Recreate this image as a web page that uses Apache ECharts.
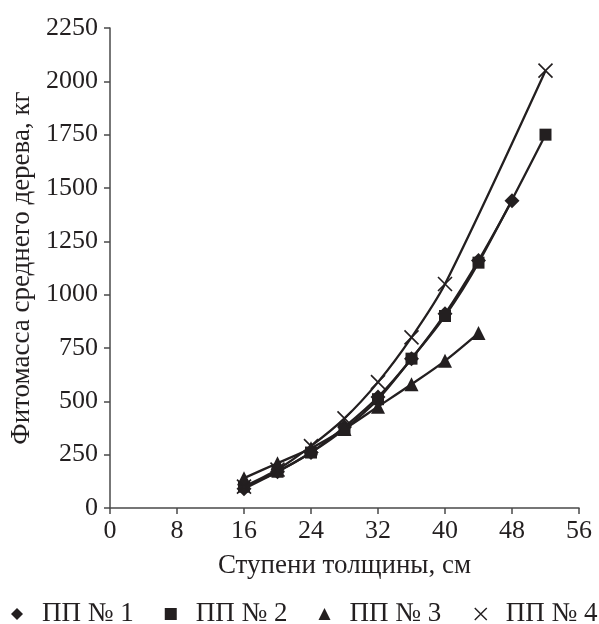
<!DOCTYPE html>
<html>
<head>
<meta charset="utf-8">
<script src="https://cdn.jsdelivr.net/npm/echarts@6/dist/echarts.min.js"></script>
<style>
  html, body { margin: 0; padding: 0; background: #fff; }
  #chart { width: 599px; height: 624px; }
</style>
</head>
<body>
<div id="chart"></div>
<script>
// Diameter classes (cm) and mean-tree phytomass (kg) per sample plot
const diameters = [16, 20, 24, 28, 32, 36, 40, 44, 48, 52];
const plot1 = [90, 170, 260, 380, 520, 700, 910, 1160, 1440, null];
const plot2 = [100, 170, 260, 370, 510, 700, 900, 1150, null, 1750];
const plot3 = [140, 210, 280, 370, 475, 580, 690, 820, null, null];
const plot4 = [100, 180, 290, 420, 590, 800, 1050, null, null, 2050];
const seriesNames = ['ПП № 1', 'ПП № 2', 'ПП № 3', 'ПП № 4'];
const yTicks = [0, 250, 500, 750, 1000, 1250, 1500, 1750, 2000, 2250];
const xTicks = [0, 8, 16, 24, 32, 40, 48, 56];

const ink = '#231f20';
const axisInk = '#4a4a4a';
const serif = 'Liberation Serif';
const crossPath = 'path://M0,0L10,10M10,0L0,10';

function pairs(vals) {
  const out = [];
  vals.forEach((v, i) => { if (v !== null) out.push([diameters[i], v]); });
  return out;
}

const symbols = ['diamond', 'rect', 'triangle', crossPath];
const sizes = [15, 12, 14, 14];
const datasets = [plot1, plot2, plot3, plot4];

const series = datasets.map((vals, k) => ({
  name: seriesNames[k],
  type: 'line',
  smooth: 0.3,
  data: pairs(vals),
  symbol: symbols[k],
  symbolSize: sizes[k],
  showAllSymbol: true,
  lineStyle: { color: ink, width: 2.3 },
  itemStyle: k === 3
    ? { color: 'none', borderColor: ink, borderWidth: 1.6 }
    : { color: ink, borderColor: ink, borderWidth: 0 },
  emphasis: { disabled: true },
  z: 3 + k
}));

const chart = echarts.init(document.getElementById('chart'), null, { renderer: 'canvas' });
chart.setOption({
  animation: false,
  backgroundColor: '#fff',
  textStyle: { fontFamily: serif, color: ink },
  grid: { left: 109, right: 20, top: 28, bottom: 116, containLabel: false },
  legend: {
    top: 600,
    left: 11,
    width: 1000,
    padding: 0,
    itemGap: 31,
    itemWidth: 12,
    itemHeight: 12,
    textStyle: { fontFamily: serif, fontSize: 27, lineHeight: 28, color: ink, padding: [0, 0, 0, 14] },
    data: [
      { name: seriesNames[0], icon: 'diamond' },
      { name: seriesNames[1], icon: 'rect' },
      { name: seriesNames[2], icon: 'triangle' },
      { name: seriesNames[3], icon: crossPath, itemStyle: { color: 'none', borderColor: ink, borderWidth: 1.4 } }
    ]
  },
  xAxis: {
    type: 'value',
    min: xTicks[0],
    max: xTicks[xTicks.length - 1],
    interval: 8,
    name: 'Ступени толщины, см',
    nameLocation: 'middle',
    nameGap: 44,
    nameTextStyle: { fontFamily: serif, fontSize: 27, color: ink },
    axisLine: { lineStyle: { color: axisInk, width: 1.5 } },
    axisTick: { show: true, length: 6, lineStyle: { color: axisInk, width: 1.5 } },
    axisLabel: { fontFamily: serif, fontSize: 26, color: ink, margin: 10, formatter: v => String(v) },
    splitLine: { show: false }
  },
  yAxis: {
    type: 'value',
    min: yTicks[0],
    max: yTicks[yTicks.length - 1],
    interval: 250,
    name: 'Фитомасса среднего дерева, кг',
    nameLocation: 'middle',
    nameGap: 75,
    nameTextStyle: { fontFamily: serif, fontSize: 27, color: ink },
    axisLine: { show: true, lineStyle: { color: axisInk, width: 1.5 } },
    axisTick: { show: true, length: 6, lineStyle: { color: axisInk, width: 1.5 } },
    axisLabel: { fontFamily: serif, fontSize: 26, color: ink, margin: 12, formatter: v => String(v) },
    splitLine: { show: false }
  },
  series: series
});
</script>
</body>
</html>
